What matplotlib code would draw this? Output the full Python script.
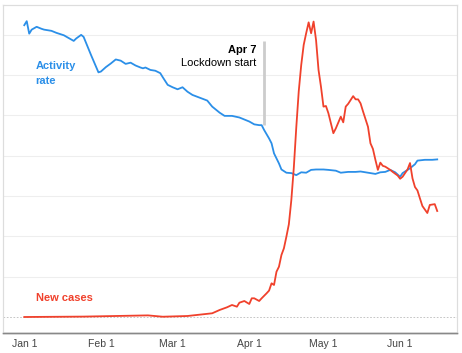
import matplotlib.pyplot as plt

plt.rcParams['font.family'] = ['Liberation Sans', 'DejaVu Sans']

# days since Jan 1 and activity rate (blue)
act_days = [0, 1, 2, 3, 5, 7, 8, 11, 13, 16, 18, 20, 21, 23, 24, 27, 30, 31, 33, 35,
            37, 39, 41, 43, 45, 47, 48, 49, 51, 53, 55, 56, 58, 60, 62, 64, 66, 68, 71, 74,
            76, 79, 81, 84, 87, 89, 91, 93, 95, 96, 97, 99, 100, 101, 103, 104, 106, 108, 110, 112,
            114, 116, 118, 121, 123, 126, 128, 131, 134, 136, 139, 142, 144, 146, 148, 150, 152, 153, 156, 158,
            159, 162, 165, 167]
activity = [72.4, 73.4, 70.3, 71.3, 72.0, 71.5, 71.3, 71.0, 70.5, 69.9, 69.2, 68.5, 69.1, 70.0, 69.5, 65.0, 60.7, 60.9, 62.0, 62.9,
            63.9, 63.6, 62.8, 63.1, 62.4, 61.9, 61.7, 61.9, 61.3, 61.1, 60.5, 59.5, 57.6, 57.0, 56.5, 57.0, 55.9, 55.1, 54.4, 53.7,
            52.2, 50.7, 49.9, 49.9, 49.5, 49.0, 48.5, 47.8, 47.6, 47.6, 46.4, 44.3, 43.1, 40.6, 38.1, 36.6, 35.8, 35.7, 35.2, 35.9,
            35.8, 36.5, 36.6, 36.6, 36.5, 36.3, 35.8, 36.0, 36.0, 36.1, 35.8, 35.5, 35.9, 36.0, 36.5, 35.9, 34.8, 35.7, 36.9, 37.9,
            38.8, 39.0, 39.0, 39.1]

# days since Jan 1 and new cases (red)
case_days = [0, 24, 37, 50, 56, 66, 76, 79, 82, 84, 86, 87, 89, 91, 92, 93, 95, 96, 98, 99,
             100, 101, 102, 103, 104, 105, 106, 107, 108, 109, 110, 111, 112, 113, 114, 115, 116, 117, 118, 119,
             120, 121, 122, 123, 125, 126, 128, 129, 130, 131, 133, 134, 135, 136, 137, 139, 140, 141, 142, 143,
             144, 145, 146, 148, 149, 151, 152, 153, 155, 156, 157, 158, 159, 160, 161, 163, 164, 166, 167]
cases = [0, 10, 25, 40, 7, 25, 92, 174, 241, 298, 256, 355, 397, 323, 464, 464, 397, 464, 588, 655,
         836, 794, 1124, 1248, 1538, 1704, 1992, 2300, 2900, 3700, 4700, 5600, 6250, 6750, 7040, 7310, 7040, 7330, 6870, 6130,
         5710, 5220, 5235, 5054, 4560, 4680, 4970, 4830, 5220, 5290, 5480, 5400, 5400, 5300, 5100, 4720, 4310, 4170, 3900, 3650,
         3830, 3750, 3730, 3650, 3600, 3510, 3430, 3480, 3660, 3820, 3440, 3225, 3140, 2945, 2754, 2580, 2780, 2800, 2630]

tick_days = [0, 31, 60, 91, 121, 152]
tick_labels = ['Jan 1', 'Feb 1', 'Mar 1', 'Apr 1', 'May 1', 'Jun 1']
grid_activity = [10, 20, 30, 40, 50, 60, 70]

lockdown_day = 97

blue = '#2b8fe8'
red = '#f0412c'

fig = plt.figure(figsize=(4.62, 3.53), dpi=100)
ax = fig.add_axes([3 / 462, 20 / 353, 454 / 462, 328 / 353])
ax2 = ax.twinx()
# red line (ax) goes on top of the blue one (ax2)
ax.set_zorder(ax2.get_zorder() + 1)
ax.patch.set_visible(False)

ax.set_xlim(-8.6, 175.0)
ax.set_ylim(-397, 7741)
ax2.set_ylim(-3.97, 77.41)

# gridlines on the lower axes so they stay under lines and labels
for y in grid_activity:
    ax2.axhline(y, color='#eeeeee', lw=0.8, zorder=0)
ax2.axhline(0, color='#bbbbbb', lw=0.6, ls=(0, (2, 2)), zorder=0)

ax2.plot(act_days, activity, color=blue, lw=1.3, zorder=2)
ax.plot(case_days, cases, color=red, lw=1.3)

# lockdown marker
ax2.vlines(lockdown_day, 47.6, 68.5, color='#cccccc', lw=2, zorder=1)
ax.text(93.8, 6542, 'Apr 7', ha='right', va='baseline', fontsize=8, fontweight='bold')
ax.text(93.8, 6233, 'Lockdown start', ha='right', va='baseline', fontsize=8)

ax.text(4.6, 6152, 'Activity', color=blue, fontsize=8, fontweight='bold', va='baseline')
ax.text(4.6, 5790, 'rate', color=blue, fontsize=8, fontweight='bold', va='baseline')
ax.text(4.6, 404, 'New cases', color=red, fontsize=8, fontweight='bold', va='baseline')

ax.set_xticks(tick_days)
ax.set_xticklabels(tick_labels)
ax.tick_params(axis='x', length=0, pad=4, labelsize=7.5, labelcolor='#444444')
ax.set_yticks([])
ax2.set_yticks([])

for a in (ax, ax2):
    for side in ('top', 'left', 'right'):
        a.spines[side].set_color('#dddddd')
        a.spines[side].set_linewidth(0.8)
    a.spines['bottom'].set_color('#888888')
    a.spines['bottom'].set_linewidth(1.0)

plt.savefig('out.png', dpi=100)
